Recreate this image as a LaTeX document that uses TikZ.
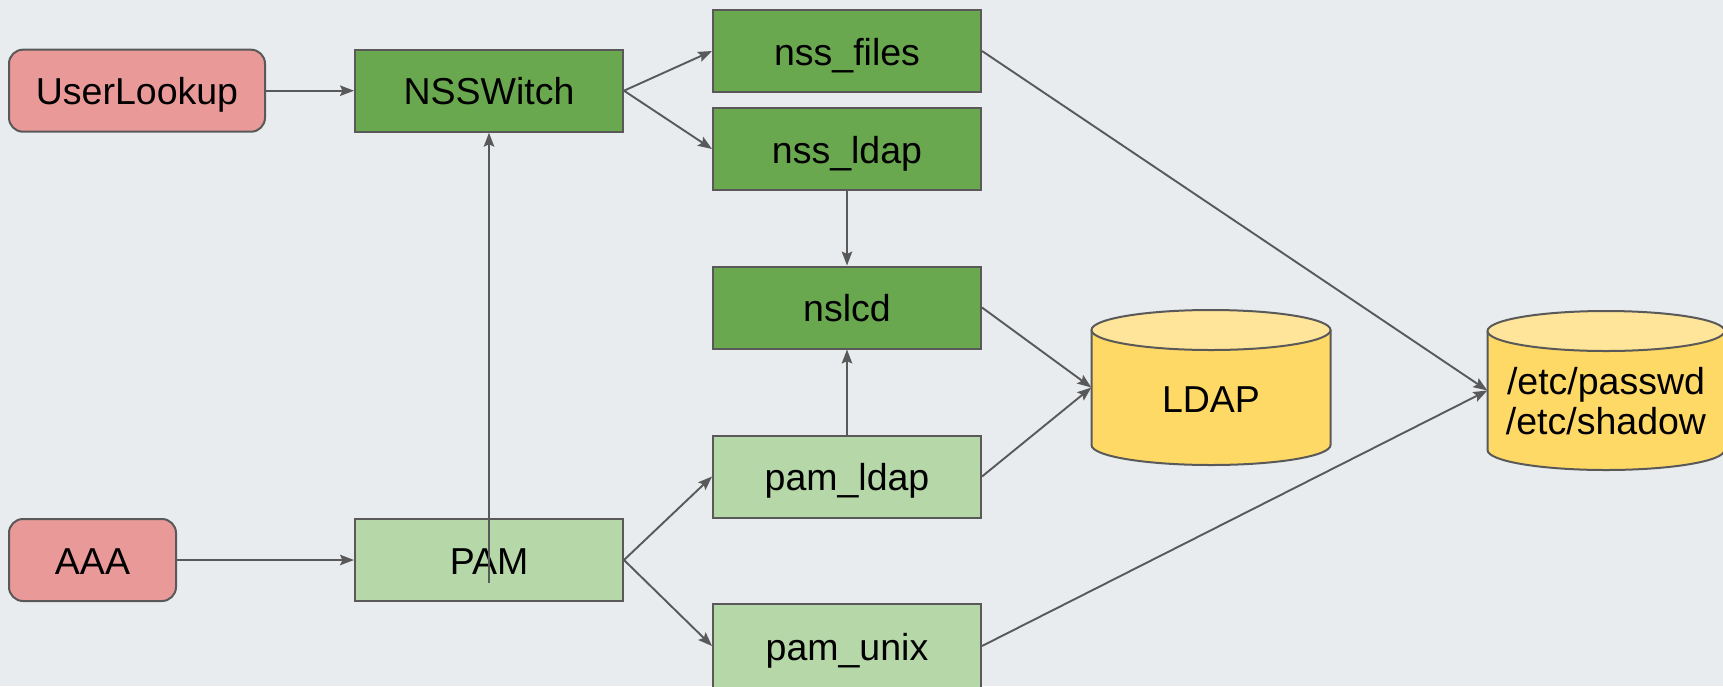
\documentclass[tikz,border=0pt]{standalone}
\usepackage{fontspec}
\setmainfont{Liberation Sans}
\usetikzlibrary{arrows.meta}

\definecolor{bgcol}{HTML}{E8ECEE}
\definecolor{linecol}{HTML}{595959}
\definecolor{pinkfill}{HTML}{EA9999}
\definecolor{darkgreen}{HTML}{6AA84F}
\definecolor{lightgreen}{HTML}{B6D7A8}
\definecolor{dbbody}{HTML}{FFD966}
\definecolor{dbtop}{HTML}{FFE599}

\tikzset{
  box/.style={draw=linecol, line width=2pt, inner sep=0pt,
    minimum height=82pt, text height=34pt, text depth=6pt,
    font=\fontsize{37.5}{40}\selectfont},
  client/.style={box, fill=pinkfill, rounded corners=14pt},
  nssbox/.style={box, fill=darkgreen, minimum width=268pt},
  pambox/.style={box, fill=lightgreen, minimum width=268pt},
  dbarea/.style={inner sep=0pt, draw=none},
  dblabel/.style={inner sep=0pt, font=\fontsize{37.5}{40}\selectfont, align=center},
  conn/.style={draw=linecol, line width=1.9pt,
    -{Stealth[length=14pt, width=10.5pt, inset=2.5pt]}},
  dbline/.style={draw=linecol, line width=2pt},
}

\begin{document}
\begin{tikzpicture}[x=1pt, y=-1pt]
  \useasboundingbox (0,0) rectangle (1723,686);
  \fill[bgcol] (0,0) rectangle (1723,686);

  % LDAP database cylinder
  \fill[dbbody] (1091.5,330) rectangle (1330.5,445);
  \fill[dbbody] (1211,445) ellipse[x radius=119.5, y radius=20];
  \draw[dbline] (1091.5,330) -- (1091.5,445)
    arc[start angle=180, end angle=0, x radius=119.5, y radius=20] -- (1330.5,330);
  \filldraw[dbline, fill=dbtop] (1211,330) ellipse[x radius=119.5, y radius=20];

  % passwd/shadow files cylinder
  \fill[dbbody] (1487.5,331) rectangle (1724.5,450);
  \fill[dbbody] (1606,450) ellipse[x radius=118.5, y radius=20];
  \draw[dbline] (1487.5,331) -- (1487.5,450)
    arc[start angle=180, end angle=0, x radius=118.5, y radius=20] -- (1724.5,331);
  \filldraw[dbline, fill=dbtop] (1606,331) ellipse[x radius=118.5, y radius=20];

  % boxes
  \node[client, minimum width=256pt] (user) at (137,90.7) {UserLookup};
  \node[client, minimum width=167pt] (aaa) at (92.5,560) {AAA};
  \node[nssbox] (nssw) at (489,90.7) {NSSWitch};
  \node[pambox] (pam) at (489,560) {PAM};
  \node[nssbox] (files) at (847,51) {nss\_files};
  \node[nssbox] (nssldap) at (847,149) {nss\_ldap};
  \node[nssbox] (nslcd) at (847,307.5) {nslcd};
  \node[pambox] (pamldap) at (847,476.5) {pam\_ldap};
  \node[pambox, minimum height=84pt] (pamunix) at (847,646) {pam\_unix};

  % database areas and their labels
  \node[dbarea, minimum width=239pt, minimum height=155pt] (ldap) at (1211,387.5) {};
  \node[dblabel, anchor=base] (ldaptext) at (1211,412) {LDAP};
  \node[dbarea, minimum width=237pt, minimum height=159pt] (etc) at (1606,390.5) {};
  \node[dblabel] (etctext) at (1606,401) {/etc/passwd\\/etc/shadow};

  \coordinate (pamup) at (489,583);

  % connectors
  \draw[conn] (user.east) -- (nssw.west);
  \draw[conn] (aaa.east) -- (pam.west);
  \draw[conn] (nssw.east) -- (files.west);
  \draw[conn] (nssw.east) -- (nssldap.west);
  \draw[conn] (pamup) -- (nssw.south);
  \draw[conn] (pam.east) -- (pamldap.west);
  \draw[conn] (pam.east) -- (pamunix.west);
  \draw[conn] (nssldap.south) -- (nslcd.north);
  \draw[conn] (pamldap.north) -- (nslcd.south);
  \draw[conn] (nslcd.east) -- (ldap.west);
  \draw[conn] (pamldap.east) -- (ldap.west);
  \draw[conn] (files.east) -- (etc.west);
  \draw[conn] (pamunix.east) -- (etc.west);
\end{tikzpicture}
\end{document}
